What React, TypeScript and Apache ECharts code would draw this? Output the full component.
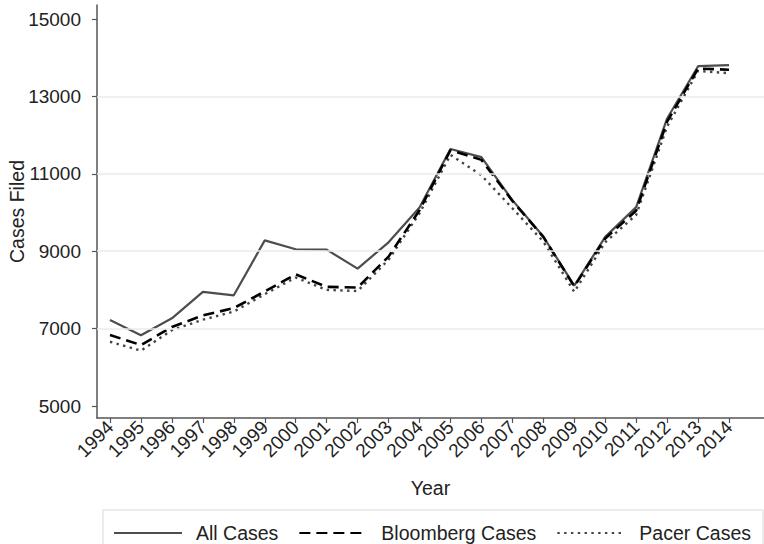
import React, { useEffect, useRef } from "react";
import * as echarts from "echarts";

const years = [1994, 1995, 1996, 1997, 1998, 1999, 2000, 2001, 2002, 2003, 2004, 2005, 2006, 2007, 2008, 2009, 2010, 2011, 2012, 2013, 2014];
const allCases = [7220, 6830, 7266, 7950, 7860, 9280, 9050, 9040, 8550, 9230, 10130, 11640, 11430, 10320, 9380, 8110, 9370, 10140, 12430, 13780, 13810];
const bloombergCases = [6835, 6576, 7040, 7340, 7530, 7960, 8400, 8080, 8060, 8860, 10060, 11610, 11360, 10300, 9370, 8090, 9330, 10050, 12350, 13720, 13690];
const pacerCases = [6660, 6430, 6960, 7230, 7440, 7890, 8320, 8000, 7970, 8780, 9980, 11490, 10960, 10110, 9250, 7950, 9230, 9940, 12220, 13660, 13600];
const yTicks = [5000, 7000, 9000, 11000, 13000, 15000];
const gridValues = [7000, 9000, 11000, 13000];

const FONT = "Liberation Sans";

export default function App() {
  const ref = useRef<HTMLDivElement>(null);
  useEffect(() => {
    if (!ref.current) return;
    const chart = echarts.init(ref.current, null, { renderer: "svg" });
    const pair = (vals: number[]) => years.map((y, i) => [y, vals[i]]);
    chart.setOption({
      animation: false,
      backgroundColor: "#ffffff",
      textStyle: { fontFamily: FONT },
      grid: { left: 97, top: 5, right: 0, bottom: 126, containLabel: false, outerBoundsMode: "none" },
      legend: {
        left: 103,
        top: 510,
        padding: [13, 12, 20, 10],
        borderColor: "#e6e6e6",
        borderWidth: 1.5,
        itemWidth: 68,
        itemHeight: 14,
        itemGap: 20,
        itemStyle: { opacity: 0, borderWidth: 0 },
        textStyle: { fontFamily: FONT, fontSize: 19.5, color: "#222", padding: [0, 0, 0, 9] },
        data: ["All Cases", "Bloomberg Cases", "Pacer Cases"],
      },
      xAxis: {
        type: "value",
        min: 1993.58,
        max: 2015.13,
        name: "Year",
        nameLocation: "middle",
        nameGap: 60,
        nameTextStyle: { fontFamily: FONT, fontSize: 19.5, color: "#222" },
        axisLine: { show: true, onZero: false, lineStyle: { color: "#555", width: 1.5 } },
        axisTick: { show: true, length: 5, customValues: years, lineStyle: { color: "#555", width: 1.2 } },
        axisLabel: {
          customValues: years,
          rotate: 45,
          margin: 6,
          fontFamily: FONT,
          fontSize: 19,
          color: "#222",
          formatter: (v: number) => String(Math.round(v)),
        },
        splitLine: { show: false },
      },
      yAxis: {
        type: "value",
        min: 4690,
        max: 15362,
        name: "Cases Filed",
        nameLocation: "middle",
        nameGap: 70,
        nameMoveOverlap: false,
        nameTextStyle: { fontFamily: FONT, fontSize: 19.5, color: "#222" },
        axisLine: { show: true, onZero: false, lineStyle: { color: "#555", width: 1.5 } },
        axisTick: { show: true, length: 5, customValues: yTicks, lineStyle: { color: "#555", width: 1.2 } },
        axisLabel: {
          customValues: yTicks,
          margin: 16,
          fontFamily: FONT,
          fontSize: 19,
          color: "#222",
          formatter: (v: number) => String(Math.round(v)),
        },
        splitLine: { show: false },
      },
      series: [
        {
          name: "grid",
          type: "line",
          data: [],
          z: 1,
          silent: true,
          markLine: {
            silent: true,
            symbol: "none",
            label: { show: false },
            lineStyle: { color: "#ebebeb", width: 1.5, type: "solid" },
            data: gridValues.map((v) => ({ yAxis: v })),
          },
        },
        {
          name: "All Cases",
          type: "line",
          data: pair(allCases),
          symbol: "none",
          z: 3,
          lineStyle: { color: "#4d4d4d", width: 2.2, type: "solid" },
          itemStyle: { color: "#4d4d4d" },
        },
        {
          name: "Bloomberg Cases",
          type: "line",
          data: pair(bloombergCases),
          symbol: "none",
          z: 4,
          lineStyle: { color: "#000000", width: 2.6, type: [11, 6] },
          itemStyle: { color: "#000000" },
        },
        {
          name: "Pacer Cases",
          type: "line",
          data: pair(pacerCases),
          symbol: "none",
          z: 2,
          lineStyle: { color: "#444444", width: 2.4, type: [2.4, 4.4] },
          itemStyle: { color: "#444444" },
        },
      ],
    });
    return () => chart.dispose();
  }, []);
  return (
    <div
      ref={ref}
      style={{ position: "fixed", left: 0, top: 0, width: 764, height: 544, background: "#fff" }}
    />
  );
}
